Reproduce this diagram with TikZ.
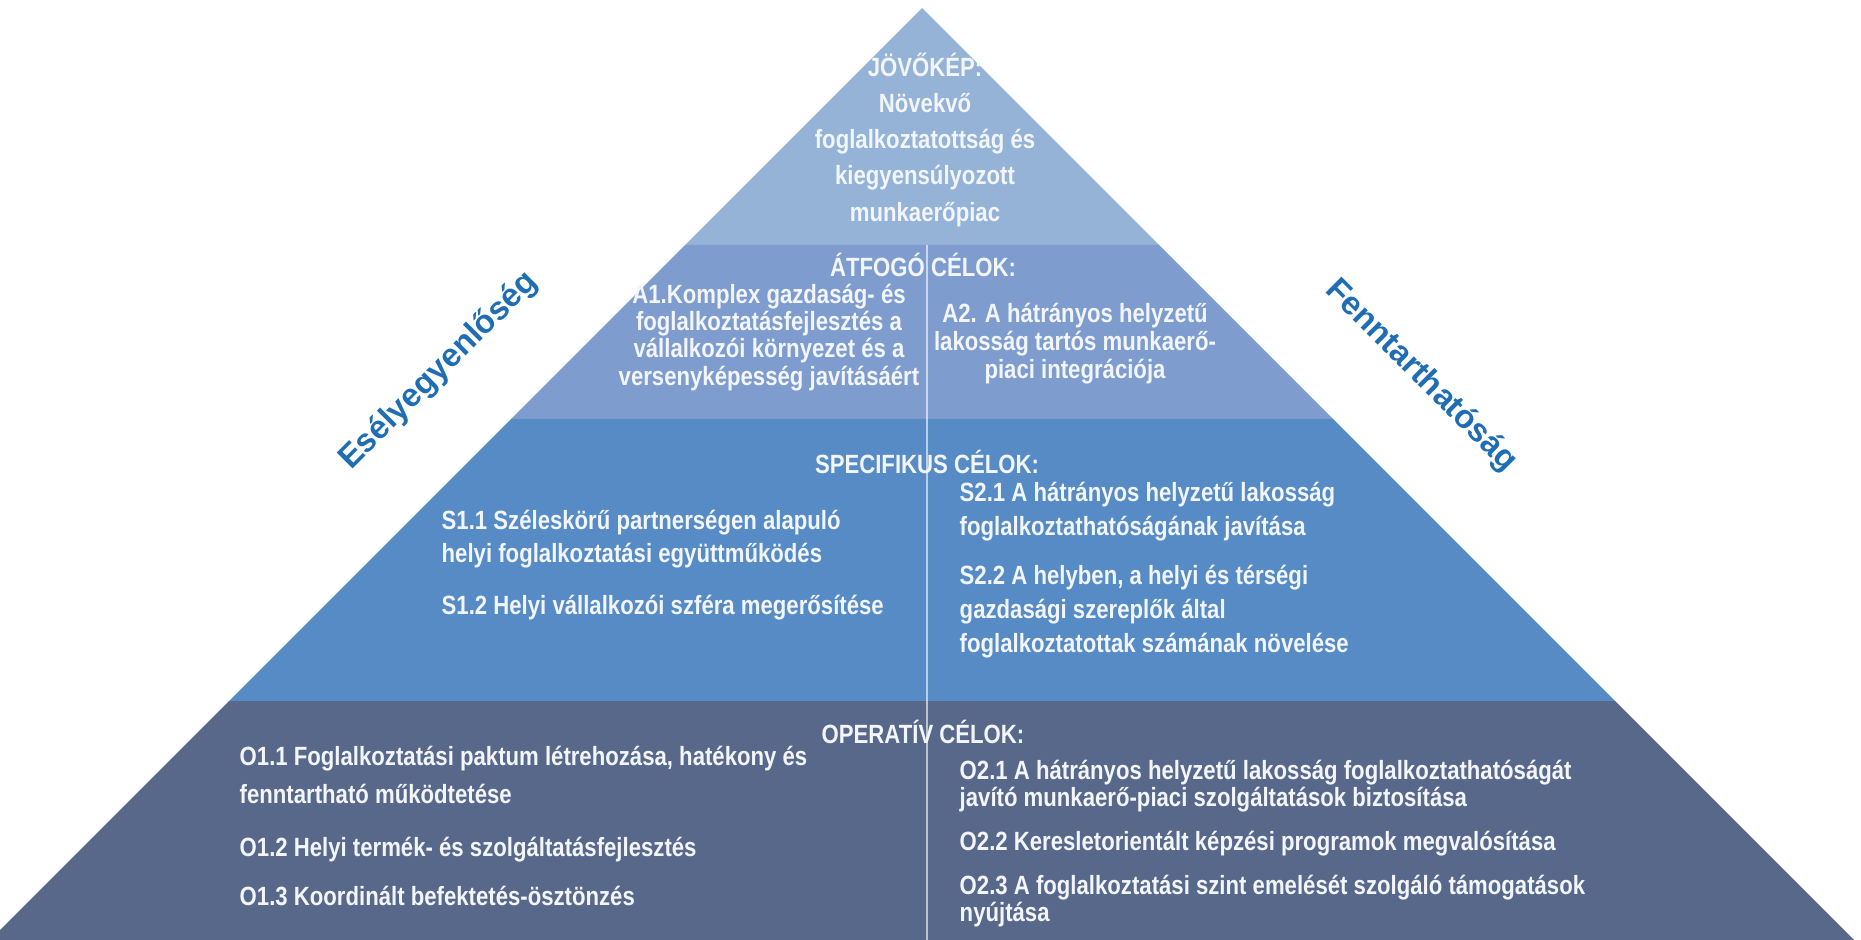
\documentclass[tikz,border=0pt]{standalone}
\usepackage{fontspec}
\setmainfont{Liberation Sans}[FakeStretch=0.84]
\newfontfamily\sidefont{Liberation Sans}

\definecolor{bandone}{RGB}{149,179,215}
\definecolor{bandtwo}{RGB}{126,157,206}
\definecolor{bandthree}{RGB}{86,139,198}
\definecolor{bandfour}{RGB}{88,104,138}
\definecolor{txtwhite}{RGB}{242,245,250}
\definecolor{sideblue}{RGB}{31,110,180}

\tikzset{
	bandtxt/.style = {text = txtwhite, inner sep = 0pt,
		font = \bfseries\fontsize{7.5}{9.4}\selectfont},
	sidelabel/.style = {text = sideblue, inner sep = 0pt,
		font = \sidefont\bfseries\fontsize{9.3}{11}\selectfont},
	divider/.style = {draw = white, draw opacity = 0.6, line width = 0.35pt}
}

\begin{document}
\begin{tikzpicture}[x = 0.01cm, y = -0.01cm]
	\useasboundingbox (0, 0) rectangle (1861, 940);
	\clip (0, 0) rectangle (1861, 940);
	
	% pyramid bands, sides at 45 degrees from the apex (922, 8)
	\fill[bandone] (922, 8) -- (685, 245) -- (1159, 245) -- cycle;
	\foreach \ya/\yb/\col in {245/419/bandtwo, 419/701/bandthree, 701/940/bandfour}
		\fill[\col] ({922 - (\ya - 8)}, \ya) -- ({922 + (\ya - 8)}, \ya)
			-- ({922 + (\yb - 8)}, \yb) -- ({922 - (\yb - 8)}, \yb) -- cycle;
	\draw[divider] (927, 245) -- (927, 940);
	
	% top
	\node[bandtxt, align = center, font = \bfseries\fontsize{7.5}{10.25}\selectfont] (vision) at (925, 140)
		{JÖVŐKÉP:\\Növekvő\\foglalkoztatottság és\\kiegyensúlyozott\\munkaerőpiac};
	
	% overall goals
	\node[bandtxt] (atfogo) at (923, 265) {ÁTFOGÓ CÉLOK:};
	\node[bandtxt, align = center, anchor = north, font = \bfseries\fontsize{7.5}{7.8}\selectfont] (aone) at (769, 283)
		{A1.Komplex gazdaság- és\\foglalkoztatásfejlesztés a\\vállalkozói környezet és a\\versenyképesség javításáért};
	\node[bandtxt, align = center, anchor = north, font = \bfseries\fontsize{7.5}{8}\selectfont] (atwo) at (1075, 302)
		{A2. A hátrányos helyzetű\\lakosság tartós munkaerő-\\piaci integrációja};
	
	% specific goals
	\node[bandtxt] (specif) at (927, 462) {SPECIFIKUS CÉLOK:};
	\node[bandtxt, align = left, anchor = north west] (sone) at (441, 509)
		{S1.1 Széleskörű partnerségen alapuló\\helyi foglalkoztatási együttműködés\\[5.6pt]
		S1.2 Helyi vállalkozói szféra megerősítése};
	\node[bandtxt, align = left, anchor = north west, font = \bfseries\fontsize{7.5}{9.8}\selectfont] (stwo) at (959, 481)
		{S2.1 A hátrányos helyzetű lakosság\\foglalkoztathatóságának javítása\\[4pt]
		S2.2 A helyben, a helyi és térségi\\gazdasági szereplők által\\foglalkoztatottak számának növelése};
	
	% operative goals
	\node[bandtxt] (operativ) at (923, 732) {OPERATÍV CÉLOK:};
	\node[bandtxt, align = left, anchor = north west, font = \bfseries\fontsize{7.5}{10.8}\selectfont] (oone) at (239, 745)
		{O1.1 Foglalkoztatási paktum létrehozása, hatékony és\\fenntartható működtetése\\[4.3pt]
		O1.2 Helyi termék- és szolgáltatásfejlesztés\\[3.1pt]
		O1.3 Koordinált befektetés-ösztönzés};
	\node[bandtxt, align = left, anchor = north west, font = \bfseries\fontsize{7.5}{7.8}\selectfont] (otwo) at (959, 759)
		{O2.1 A hátrányos helyzetű lakosság foglalkoztathatóságát\\javító munkaerő-piaci szolgáltatások biztosítása\\[4.7pt]
		O2.2 Keresletorientált képzési programok megvalósítása\\[4.7pt]
		O2.3 A foglalkoztatási szint emelését szolgáló támogatások\\nyújtása};
	
	% side labels
	\node[sidelabel, rotate = 45] (esely) at (439, 371) {Esélyegyenlőség};
	\node[sidelabel, rotate = -45] (fennt) at (1421, 376) {Fenntarthatóság};
\end{tikzpicture}
\end{document}
